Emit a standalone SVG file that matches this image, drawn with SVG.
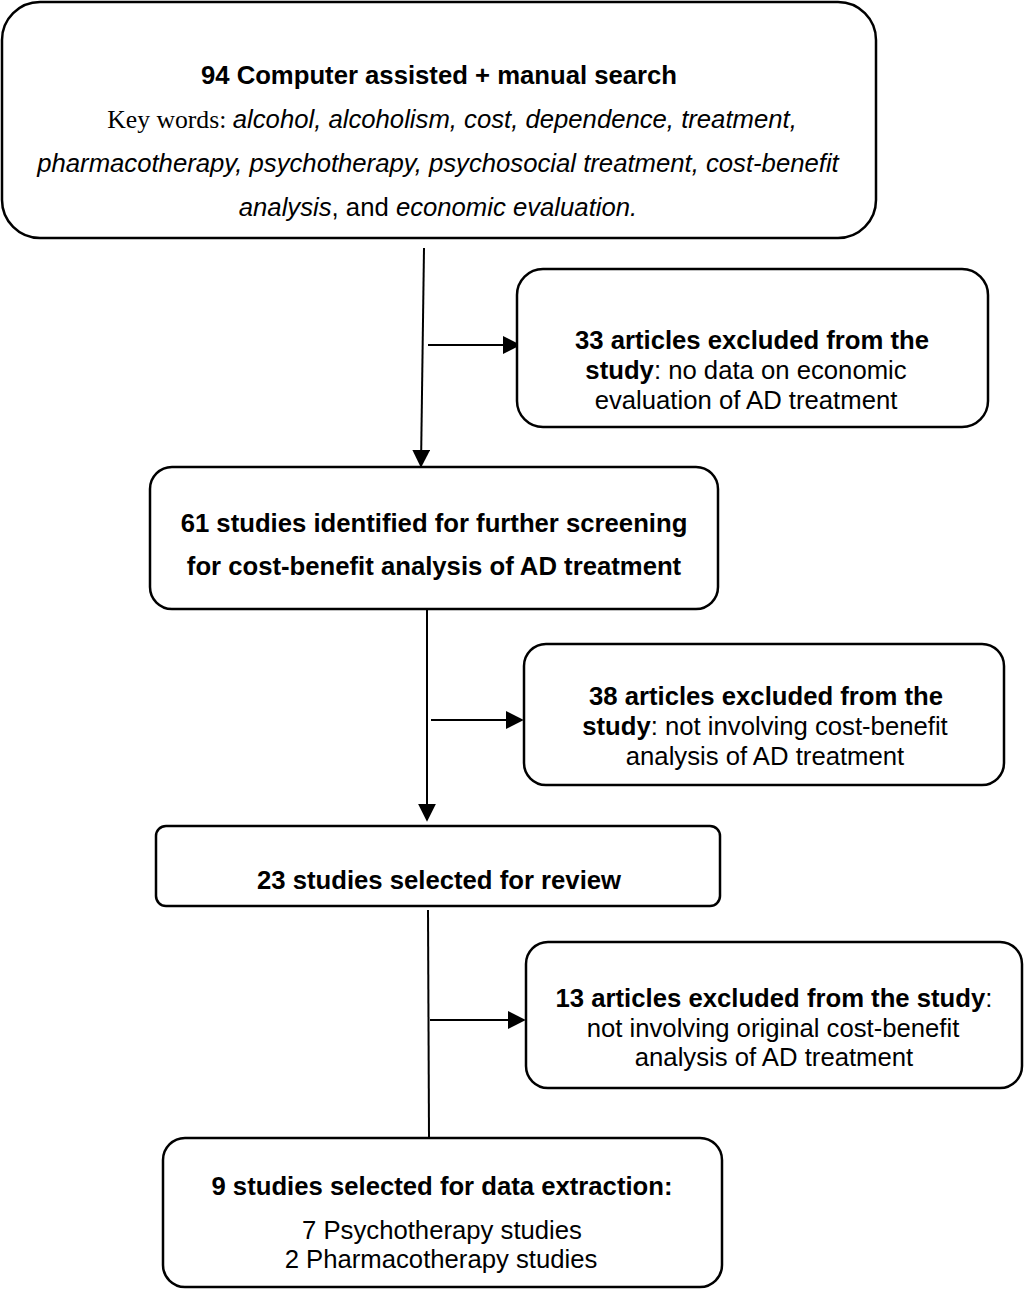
<svg xmlns="http://www.w3.org/2000/svg" width="1024" height="1289" viewBox="0 0 1024 1289">
<style>
.box{fill:#fff;stroke:#000;stroke-width:2.5}
.t{font-family:"Liberation Sans",Arial,sans-serif;font-size:25.7px;text-anchor:middle;fill:#000}
.b{font-weight:bold}
.i{font-style:italic}
.ser{font-family:"Liberation Serif","Times New Roman",serif}
.ln{stroke:#000;stroke-width:2;fill:none}
</style>
<defs>
<marker id="ah2" viewBox="0 0 10 10" refX="9" refY="5" markerWidth="18" markerHeight="18" orient="auto" markerUnits="userSpaceOnUse">
<path d="M0,0 L10,5 L0,10 z" fill="#000"/>
</marker>
</defs>
<rect width="1024" height="1289" fill="#fff"/>
<g id="connectors">
<line class="ln" x1="424" y1="248" x2="421" y2="466" marker-end="url(#ah2)"/>
<line class="ln" x1="428" y1="345" x2="519" y2="345" marker-end="url(#ah2)"/>
<line class="ln" x1="427" y1="610" x2="427" y2="820" marker-end="url(#ah2)"/>
<line class="ln" x1="431" y1="720" x2="522" y2="720" marker-end="url(#ah2)"/>
<line class="ln" x1="428" y1="910" x2="429" y2="1138"/>
<line class="ln" x1="430" y1="1020" x2="524" y2="1020" marker-end="url(#ah2)"/>
</g>
<g id="n1">
<rect class="box" x="2" y="2" width="874" height="236" rx="38"/>
<text class="t b" x="439" y="84">94 Computer assisted + manual search</text>
<text class="t" x="452" y="128"><tspan class="ser">Key words: </tspan><tspan class="i">alcohol, alcoholism, cost, dependence, treatment,</tspan></text>
<text class="t i" x="438" y="172">pharmacotherapy, psychotherapy, psychosocial treatment, cost-benefit</text>
<text class="t" x="438" y="216"><tspan class="i">analysis</tspan>, and <tspan class="i">economic evaluation.</tspan></text>
</g>
<g id="n2">
<rect class="box" x="517" y="269" width="471" height="158" rx="26"/>
<text class="t b" x="752" y="349">33 articles excluded from the</text>
<text class="t" x="746" y="379"><tspan class="b">study</tspan>: no data on economic</text>
<text class="t" x="746" y="409">evaluation of AD treatment</text>
</g>
<g id="n3">
<rect class="box" x="150" y="467" width="568" height="142" rx="22"/>
<text class="t b" x="434" y="532">61 studies identified for further screening</text>
<text class="t b" x="434" y="575">for cost-benefit analysis of AD treatment</text>
</g>
<g id="n4">
<rect class="box" x="524" y="644" width="480" height="141" rx="22"/>
<text class="t b" x="766" y="705">38 articles excluded from the</text>
<text class="t" x="765" y="735"><tspan class="b">study</tspan>: not involving cost-benefit</text>
<text class="t" x="765" y="765">analysis of AD treatment</text>
</g>
<g id="n5">
<rect class="box" x="156" y="826" width="564" height="80" rx="10"/>
<text class="t b" x="439" y="889">23 studies selected for review</text>
</g>
<g id="n6">
<rect class="box" x="526" y="942" width="496" height="146" rx="22"/>
<text class="t" x="774" y="1007"><tspan class="b">13 articles excluded from the study</tspan>:</text>
<text class="t" x="773" y="1037">not involving original cost-benefit</text>
<text class="t" x="774" y="1066">analysis of AD treatment</text>
</g>
<g id="n7">
<rect class="box" x="163" y="1138" width="559" height="149" rx="22"/>
<text class="t b" x="442" y="1195">9 studies selected for data extraction:</text>
<text class="t" x="442" y="1239">7 Psychotherapy studies</text>
<text class="t" x="441" y="1268">2 Pharmacotherapy studies</text>
</g>
</svg>
